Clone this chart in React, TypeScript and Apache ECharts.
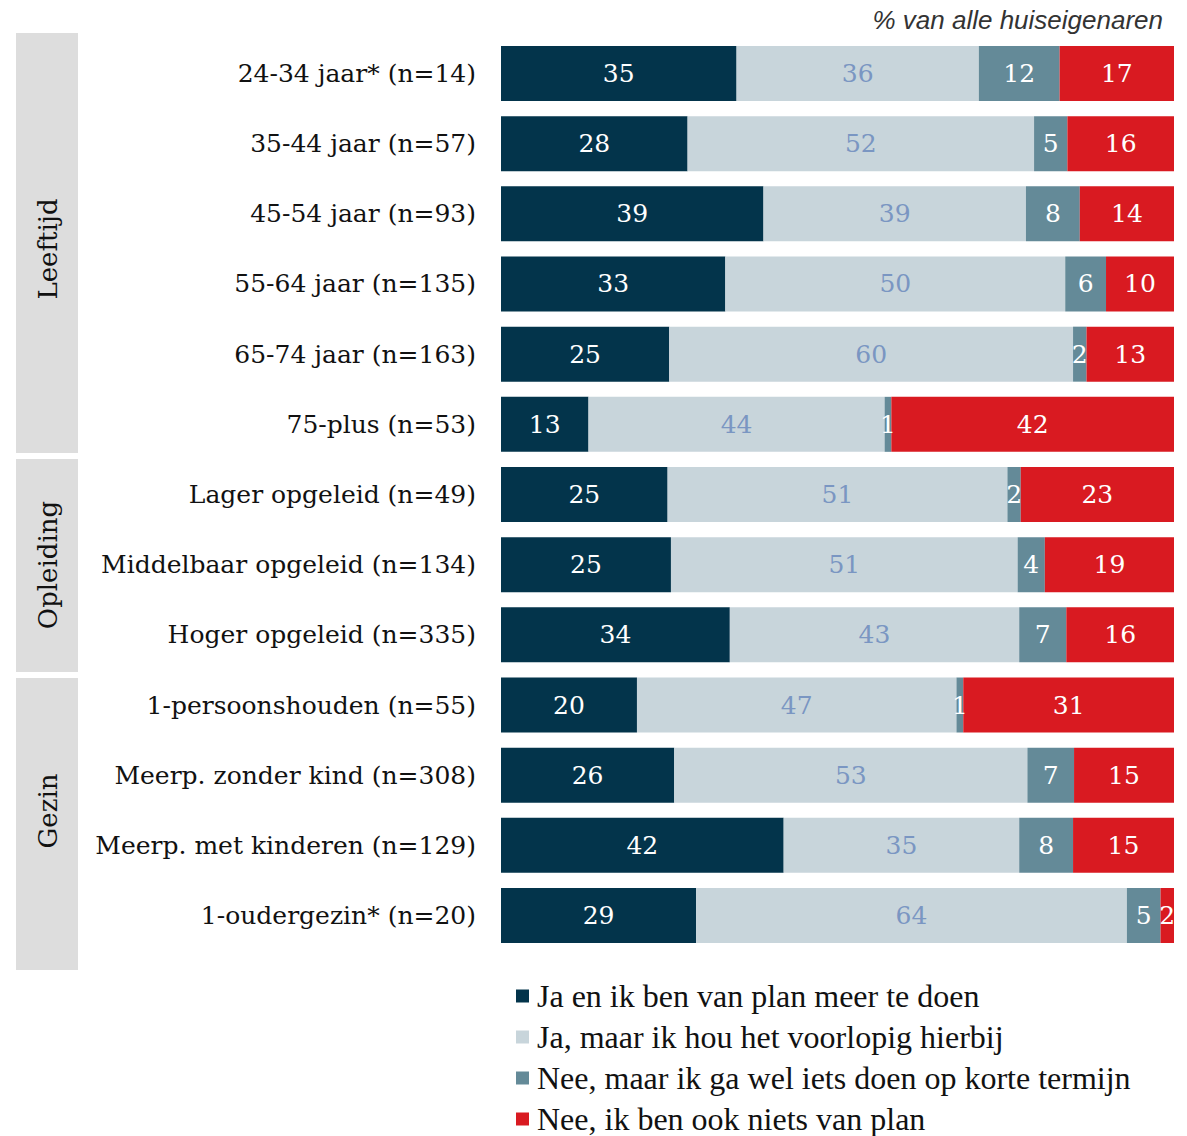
import React, { useEffect, useRef } from "react";
import * as echarts from "echarts";

const categories = [
  "24-34 jaar* (n=14)",
  "35-44 jaar (n=57)",
  "45-54 jaar (n=93)",
  "55-64 jaar (n=135)",
  "65-74 jaar (n=163)",
  "75-plus (n=53)",
  "Lager opgeleid (n=49)",
  "Middelbaar opgeleid (n=134)",
  "Hoger opgeleid (n=335)",
  "1-persoonshouden (n=55)",
  "Meerp. zonder kind (n=308)",
  "Meerp. met kinderen (n=129)",
  "1-oudergezin* (n=20)",
];

const seriesNames = [
  "Ja en ik ben van plan meer te doen",
  "Ja, maar ik hou het voorlopig hierbij",
  "Nee, maar ik ga wel iets doen op korte termijn",
  "Nee, ik ben ook niets van plan",
];

const jaMeer = [35, 28, 39, 33, 25, 13, 25, 25, 34, 20, 26, 42, 29];
const jaHierbij = [36, 52, 39, 50, 60, 44, 51, 51, 43, 47, 53, 35, 64];
const neeKort = [12, 5, 8, 6, 2, 1, 2, 4, 7, 1, 7, 8, 5];
const neeNiets = [17, 16, 14, 10, 13, 42, 23, 19, 16, 31, 15, 15, 2];

const groups = ["Leeftijd", "Opleiding", "Gezin"];

const colors = ["#03344b", "#c8d5db", "#648a98", "#d91a21"];
const labelColors = ["#ffffff", "#7a96c2", "#ffffff", "#ffffff"];

const SERIF = "'DejaVu Serif', Georgia, serif";

export default function App() {
  const ref = useRef<HTMLDivElement>(null);
  useEffect(() => {
    if (!ref.current) return;
    const chart = echarts.init(ref.current, undefined, { renderer: "svg" });
    const raw = [jaMeer, jaHierbij, neeKort, neeNiets];
    const totals = categories.map((_, i) => raw.reduce((s, arr) => s + arr[i], 0));

    const series = raw.map((arr, k) => ({
      name: seriesNames[k],
      type: "bar",
      stack: "total",
      barCategoryGap: "21.6%",
      itemStyle: { color: colors[k] },
      label: {
        show: true,
        position: "inside",
        color: labelColors[k],
        fontFamily: SERIF,
        fontSize: 25,
        padding: [4, 0, 0, 0],
        formatter: (p: any) => String(arr[p.dataIndex]),
      },
      data: arr.map((v, i) => (v / totals[i]) * 100),
    }));

    const panelTexts = [
      { text: groups[0], y: 249 },
      { text: groups[1], y: 565 },
      { text: groups[2], y: 811 },
    ];

    chart.setOption({
      animation: false,
      grid: {
        left: 501,
        right: 13,
        top: 38.4,
        bottom: 185.4,
        containLabel: false,
        outerBoundsMode: "none",
      },
      xAxis: {
        type: "value",
        min: 0,
        max: 100,
        show: false,
      },
      yAxis: {
        type: "category",
        inverse: true,
        data: categories,
        axisLine: { show: false },
        axisTick: { show: false },
        axisLabel: {
          margin: 25,
          color: "#111",
          fontFamily: SERIF,
          fontSize: 25,
          align: "right",
        },
      },
      legend: {
        orient: "vertical",
        left: 516,
        top: 980,
        height: 170,
        padding: 0,
        itemWidth: 13,
        itemHeight: 13,
        itemGap: 9,
        icon: "rect",
        data: seriesNames,
        textStyle: {
          fontFamily: "'Liberation Serif', 'Times New Roman', serif",
          fontSize: 32,
          color: "#111",
          padding: [0, 0, 0, 3],
        },
      },
      graphic: [
        { type: "rect", shape: { x: 16, y: 33, width: 62, height: 420 }, style: { fill: "#dddddd" } },
        { type: "rect", shape: { x: 16, y: 459, width: 62, height: 213 }, style: { fill: "#dddddd" } },
        { type: "rect", shape: { x: 16, y: 678, width: 62, height: 292 }, style: { fill: "#dddddd" } },
        ...panelTexts.map((p) => ({
          type: "text",
          x: 48,
          y: p.y,
          rotation: Math.PI / 2,
          style: {
            text: p.text,
            fill: "#111",
            font: `26px ${SERIF}`,
            align: "center",
            verticalAlign: "middle",
          },
        })),
        {
          type: "text",
          x: 1163,
          y: 20,
          style: {
            text: "% van alle huiseigenaren",
            fill: "#333",
            font: "italic 26px 'Liberation Sans', Arial, sans-serif",
            align: "right",
            verticalAlign: "middle",
          },
        },
      ],
      series,
    });
    return () => chart.dispose();
  }, []);
  return <div ref={ref} style={{ width: 1187, height: 1136, position: "absolute", left: 0, top: 0 }} />;
}
